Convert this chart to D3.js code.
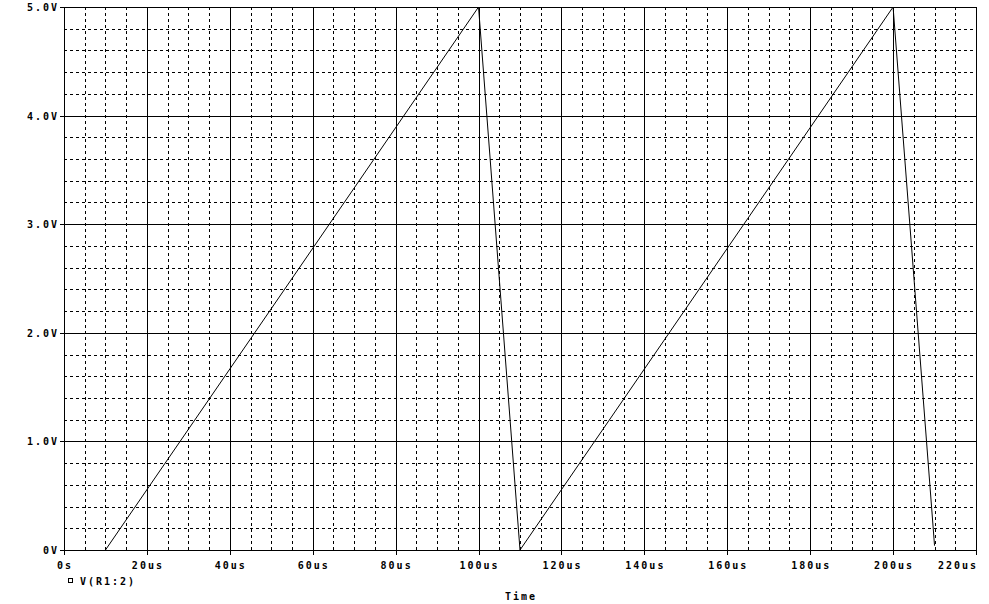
<!DOCTYPE html>
<html>
<head>
<meta charset="utf-8">
<script src="https://cdn.jsdelivr.net/npm/d3@7"></script>
<style>
  body { margin: 0; background: #fff; }
  text { font-family: "DejaVu Sans Mono", monospace; font-weight: bold; font-size: 10px; letter-spacing: 2px; fill: #000; }
</style>
</head>
<body>
<svg id="chart" width="989" height="604"></svg>
<script>
// Trace V(R1:2): time in us, voltage in V
const times = [10, 100, 110, 200, 210];
const volts = [0, 5, 0, 5, 0.04];

// Axis ticks
const xTicks = [0, 20, 40, 60, 80, 100, 120, 140, 160, 180, 200, 220];
const xTickLabels = ["0s", "20us", "40us", "60us", "80us", "100us", "120us", "140us", "160us", "180us", "200us", "220us"];
const yTicks = [0, 1, 2, 3, 4, 5];
const yTickLabels = ["0V", "1.0V", "2.0V", "3.0V", "4.0V", "5.0V"];
const traceName = "V(R1:2)";
const xTitle = "Time";

const plotL = 64, plotR = 976, plotT = 7, plotB = 550;

const svg = d3.select("#chart");

const x = d3.scaleLinear().domain([0, 220]).range([plotL, plotR]);
const y = d3.scaleLinear().domain([0, 5]).range([plotB, plotT]);

const px = v => Math.round(v) + 0.5;

// minor grid (dashed): every 5us, every 0.2V
const xMinor = d3.range(0, 221, 5).filter(v => v % 20 !== 0);
const yMinor = d3.range(0, 26).map(i => i / 5).filter(v => Math.abs(v - Math.round(v)) > 1e-6);

const grid = svg.append("g").attr("shape-rendering", "crispEdges");

grid.selectAll("line.vmin")
  .data(xMinor)
  .join("line")
  .attr("x1", d => px(x(d))).attr("x2", d => px(x(d)))
  .attr("y1", plotT).attr("y2", plotB)
  .attr("stroke", "#000").attr("stroke-dasharray", "3,3");

grid.selectAll("line.hmin")
  .data(yMinor)
  .join("line")
  .attr("y1", d => px(y(d))).attr("y2", d => px(y(d)))
  .attr("x1", plotL).attr("x2", plotR)
  .attr("stroke", "#000").attr("stroke-dasharray", "3,3");

// major grid (solid)
grid.selectAll("line.vmaj")
  .data(xTicks)
  .join("line")
  .attr("x1", d => px(x(d))).attr("x2", d => px(x(d)))
  .attr("y1", plotT).attr("y2", plotB + 5)
  .attr("stroke", "#000");

grid.selectAll("line.hmaj")
  .data(yTicks)
  .join("line")
  .attr("y1", d => px(y(d))).attr("y2", d => px(y(d)))
  .attr("x1", plotL - 4).attr("x2", plotR)
  .attr("stroke", "#000");

// tick labels (last one kept inside the window)
const lastX = xTicks[xTicks.length - 1];
svg.selectAll("text.xl")
  .data(xTicks)
  .join("text")
  .attr("x", d => d === lastX ? x(d) + 2 : x(d) + 1)
  .attr("y", 569)
  .attr("text-anchor", d => d === lastX ? "end" : "middle")
  .text((d, i) => xTickLabels[i]);

svg.selectAll("text.yl")
  .data(yTicks)
  .join("text")
  .attr("x", 59)
  .attr("y", d => y(d) + 4)
  .attr("text-anchor", "end")
  .text((d, i) => yTickLabels[i]);

// trace
const line = d3.line()
  .x((d, i) => x(times[i]))
  .y(d => y(d));

svg.append("path")
  .datum(volts)
  .attr("d", line)
  .attr("fill", "none")
  .attr("stroke", "#000")
  .attr("stroke-width", 1);

// legend
svg.append("rect")
  .attr("x", 68.5).attr("y", 578.5)
  .attr("width", 4).attr("height", 4)
  .attr("fill", "none").attr("stroke", "#000")
  .attr("shape-rendering", "crispEdges");
svg.append("text")
  .attr("x", 80).attr("y", 585)
  .text(traceName);

svg.append("text")
  .attr("x", (plotL + plotR) / 2 + 1)
  .attr("y", 600)
  .attr("text-anchor", "middle")
  .text(xTitle);
</script>
</body>
</html>
